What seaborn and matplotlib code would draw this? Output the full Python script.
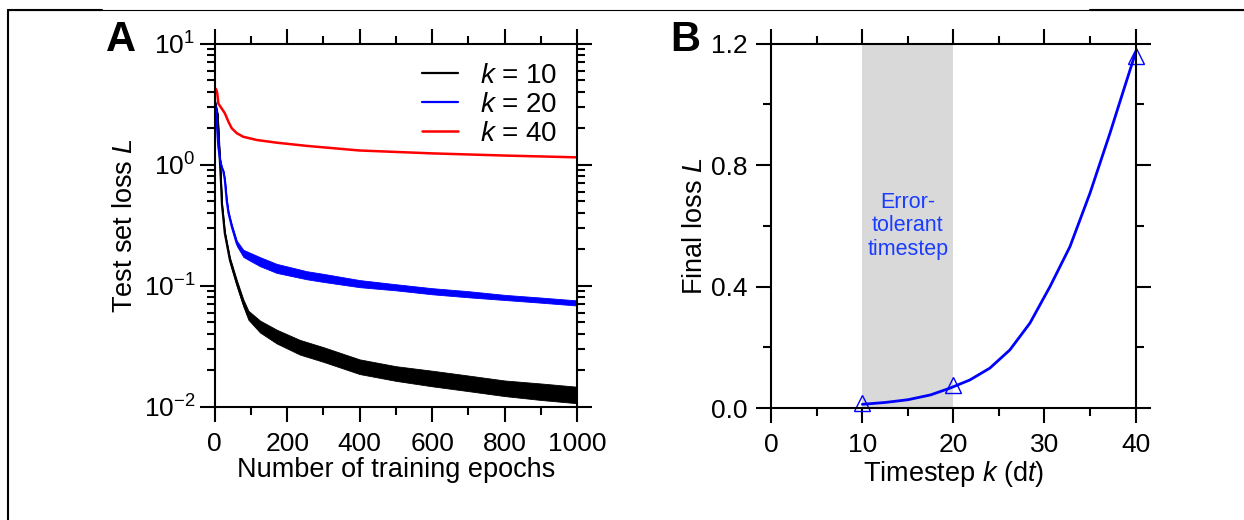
import numpy as np
import pandas as pd
import matplotlib
matplotlib.use("Agg")
import matplotlib.pyplot as plt
import seaborn as sns
from matplotlib.lines import Line2D
from matplotlib.ticker import MultipleLocator, FormatStrFormatter, LogLocator

# ---- panel A: test loss vs epochs (trend) ----
epochs_k10 = [0, 8, 13, 17, 20, 28, 42, 61, 79, 93, 125, 171, 235, 300, 400, 500, 600, 700, 800, 900, 1000]
loss_k10 = [3.43, 2.6, 1.3, 0.75, 0.47, 0.27, 0.163, 0.105, 0.072, 0.057, 0.046, 0.038, 0.031, 0.027,
            0.0214, 0.0188, 0.0171, 0.0156, 0.0142, 0.0133, 0.0125]
spread_k10 = [1.0, 1.0, 1.0, 1.02, 1.03, 1.04, 1.05, 1.06, 1.07, 1.09, 1.12, 1.14, 1.15, 1.15,
              1.15, 1.15, 1.16, 1.16, 1.16, 1.17, 1.17]

epochs_k20 = [0, 4, 10, 15, 19, 24, 28, 33, 38, 47, 61, 79, 100, 125, 171, 254, 300, 400, 500, 600,
              700, 800, 900, 1000]
loss_k20 = [3.43, 2.7, 1.41, 1.1, 0.96, 0.88, 0.75, 0.51, 0.40, 0.31, 0.224, 0.185, 0.172, 0.158,
            0.139, 0.122, 0.116, 0.104, 0.097, 0.090, 0.085, 0.080, 0.076, 0.072]
spread_k20 = [1.0, 1.0, 1.0, 1.0, 1.01, 1.01, 1.02, 1.02, 1.03, 1.04, 1.05, 1.07, 1.08, 1.09,
              1.09, 1.08, 1.08, 1.07, 1.06, 1.06, 1.06, 1.05, 1.05, 1.05]

epochs_k40 = [0, 4, 7, 10, 19, 28, 38, 47, 61, 79, 116, 171, 254, 400, 600, 800, 1000]
loss_k40 = [4.3, 4.2, 3.9, 3.2, 2.92, 2.66, 2.26, 2.0, 1.82, 1.70, 1.60, 1.52, 1.43, 1.31, 1.24, 1.19, 1.15]

# ---- panel B: final loss vs timestep ----
k_curve = [10, 12.5, 15, 17.5, 19.6, 21.8, 24.0, 26.2, 28.4, 30.6, 32.8, 35.0, 37.2, 38.7, 40]
loss_curve = [0.013, 0.019, 0.028, 0.044, 0.066, 0.093, 0.132, 0.192, 0.28, 0.40, 0.532, 0.708,
              0.906, 1.048, 1.17]
k_points = [10, 20, 40]
loss_points = [0.018, 0.075, 1.16]

sns.set_style("ticks")
plt.rcParams['font.family'] = ['Liberation Sans', 'DejaVu Sans']
plt.rcParams['mathtext.fontset'] = 'custom'
plt.rcParams['mathtext.rm'] = 'Liberation Sans'
plt.rcParams['mathtext.it'] = 'Liberation Sans:italic'
plt.rcParams['mathtext.default'] = 'regular'
plt.rcParams['axes.unicode_minus'] = False
plt.rcParams['text.color'] = 'black'
plt.rcParams['axes.labelcolor'] = 'black'

fig = plt.figure(figsize=(12.44, 5.2), dpi=100)
axA = fig.add_axes([0.1726, 0.2179, 0.2912, 0.6981])
axB = fig.add_axes([0.6200, 0.2149, 0.2928, 0.7011])

for ax in (axA, axB):
    for s in ax.spines.values():
        s.set_linewidth(1.5)
        s.set_color('black')
    ax.tick_params(which='both', direction='out', top=True, right=True, width=1.5,
                   colors='black', labelsize=19)
    ax.tick_params(which='major', length=11)
    ax.tick_params(which='minor', length=5.5)
    ax.tick_params(axis='x', pad=7)

# panel A
series = [("$\\mathit{k}$ = 10", epochs_k10, loss_k10, spread_k10, 'black'),
          ("$\\mathit{k}$ = 20", epochs_k20, loss_k20, spread_k20, '#0000ff')]
for label, ep, lo, sp, col in series:
    lo = np.array(lo)
    sp = np.array(sp)
    axA.fill_between(ep, lo / sp, lo * sp, color=col, lw=0.6, edgecolor=col)
    sns.lineplot(x=ep, y=lo, ax=axA, color=col, lw=1.6, label=label)
sns.lineplot(x=epochs_k40, y=loss_k40, ax=axA, color='#ff0000', lw=1.8, label="$\\mathit{k}$ = 40")

axA.set_yscale('log')
axA.set_xlim(0, 1000)
axA.set_ylim(1e-2, 1e1)
axA.xaxis.set_major_locator(MultipleLocator(200))
axA.xaxis.set_minor_locator(MultipleLocator(100))
axA.yaxis.set_major_locator(LogLocator(base=10, numticks=10))
axA.yaxis.set_minor_locator(LogLocator(base=10, subs=np.arange(2, 10), numticks=20))
axA.tick_params(axis='y', pad=3)
axA.set_xlabel("Number of training epochs", fontsize=19.5, labelpad=1)
axA.set_ylabel("Test set loss $\\mathit{L}$", fontsize=19.5, labelpad=4)
axA.legend(loc='upper right', frameon=False, fontsize=20, handlelength=1.3,
           handletextpad=0.8, labelspacing=0.1, borderaxespad=0.3)

# panel B
axB.axvspan(10, 20, color='#d9d9d9', lw=0, zorder=0)
sns.lineplot(x=k_curve, y=loss_curve, ax=axB, color='#0000ff', lw=2.0)
axB.plot(k_points, loss_points, ls='none', marker='^', markersize=12,
         markerfacecolor='none', markeredgecolor='#0000ff', markeredgewidth=1.0, clip_on=False)
axB.text(15, 0.6, "Error-\ntolerant\ntimestep", color='#1a3cff', fontsize=15.5,
         ha='center', va='center', linespacing=1.15)
axB.set_xlim(0, 40)
axB.set_ylim(0, 1.2)
axB.xaxis.set_major_locator(MultipleLocator(10))
axB.xaxis.set_minor_locator(MultipleLocator(5))
axB.yaxis.set_major_locator(MultipleLocator(0.4))
axB.yaxis.set_minor_locator(MultipleLocator(0.2))
axB.yaxis.set_major_formatter(FormatStrFormatter('%.1f'))
axB.tick_params(axis='y', pad=6)
axB.set_xlabel("Timestep $\\mathit{k}$ (d$\\mathit{t}$)", fontsize=19.5, labelpad=1)
axB.set_ylabel("Final loss $\\mathit{L}$", fontsize=19.5, labelpad=2)

# panel letters
fig.text(0.085, 0.962, "A", fontsize=30, fontweight='bold', va='top', ha='left')
fig.text(0.539, 0.962, "B", fontsize=30, fontweight='bold', va='top', ha='left')

# page border fragments
fig.add_artist(Line2D([8 / 1244, 1.0], [1 - 10 / 520] * 2, color='black', lw=0.8))
fig.add_artist(Line2D([8 / 1244, 102 / 1244], [1 - 10 / 520] * 2, color='black', lw=1.5))
fig.add_artist(Line2D([1090 / 1244, 1.0], [1 - 10 / 520] * 2, color='black', lw=1.5))
fig.add_artist(Line2D([8 / 1244] * 2, [0, 1 - 10 / 520], color='black', lw=1.5))

fig.savefig("out.png", dpi=100)
